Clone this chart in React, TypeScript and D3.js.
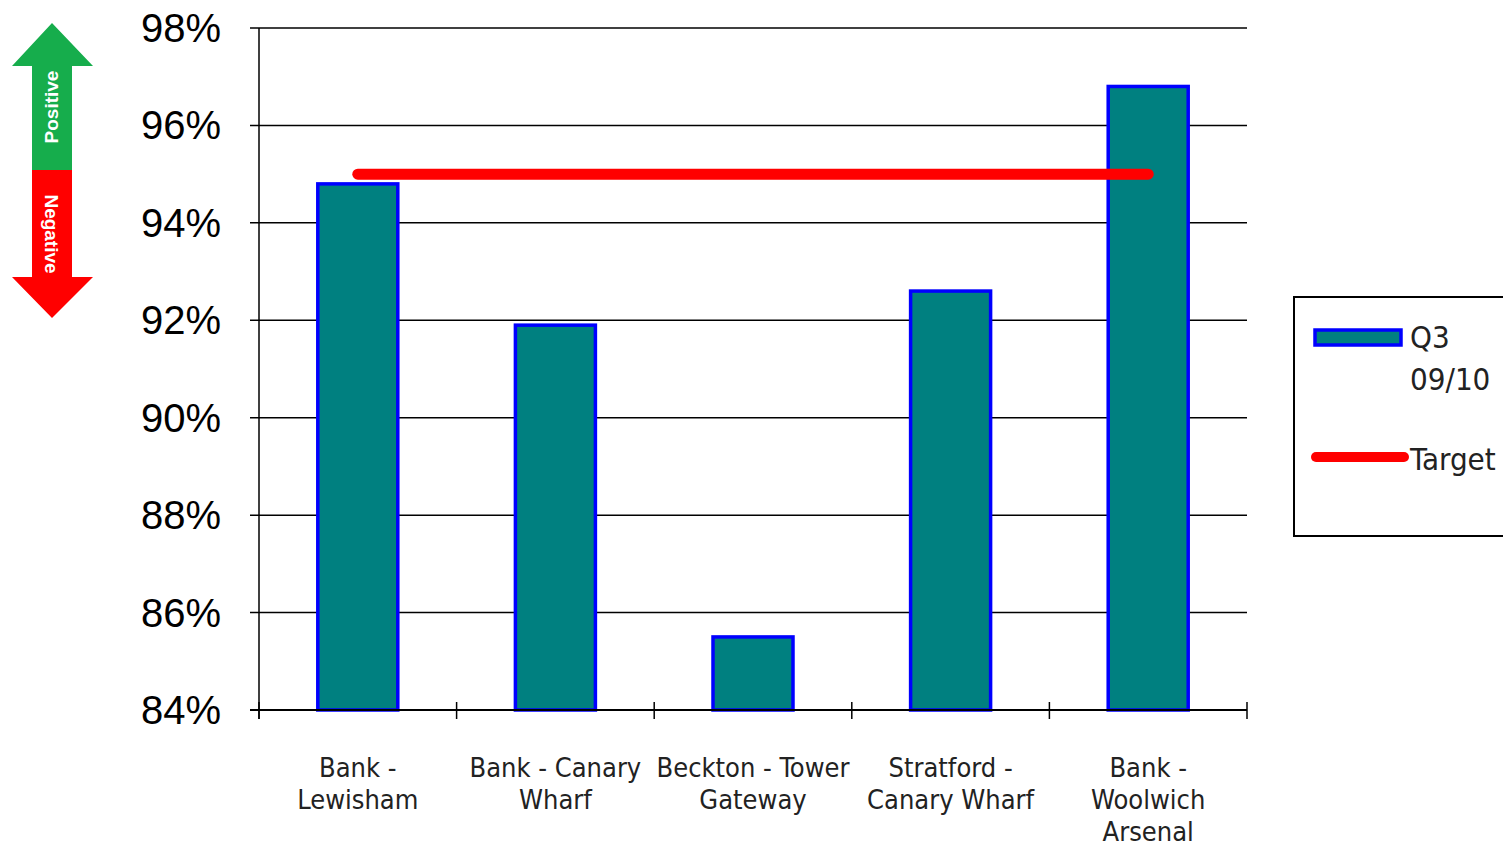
import { useEffect, useRef } from "react";
import * as d3 from "d3";

const categories = [
  ["Bank -", "Lewisham"],
  ["Bank - Canary", "Wharf"],
  ["Beckton - Tower", "Gateway"],
  ["Stratford -", "Canary Wharf"],
  ["Bank -", "Woolwich", "Arsenal"],
];
const q3Values = [94.8, 91.9, 85.5, 92.6, 96.8];
const targetValues = [95, 95, 95, 95, 95];
const yTicks = [84, 86, 88, 90, 92, 94, 96, 98];

const W = 1503;
const H = 844;
const PLOT = { left: 259, right: 1247, top: 28, bottom: 710 };

export default function App() {
  const svgRef = useRef<SVGSVGElement | null>(null);

  useEffect(() => {
    const svg = svgRef.current;
    if (!svg) return;
    svg.innerHTML = "";
    const root = d3.select(svg);

    const keys = categories.map((_, i) => String(i));
    const x = d3.scaleBand().domain(keys).range([PLOT.left, PLOT.right]).padding(0);
    const y = d3.scaleLinear().domain([84, 98]).range([PLOT.bottom, PLOT.top]);
    const barW = 80;
    const cx = (i: number) => x(String(i))! + x.bandwidth() / 2;

    // gridlines
    root
      .append("g")
      .selectAll("line")
      .data(yTicks)
      .join("line")
      .attr("x1", PLOT.left - 9)
      .attr("x2", PLOT.right)
      .attr("y1", (d) => y(d))
      .attr("y2", (d) => y(d))
      .attr("stroke", "#000")
      .attr("stroke-width", 1.5);

    // y labels
    root
      .append("g")
      .selectAll("text")
      .data(yTicks)
      .join("text")
      .attr("x", 221)
      .attr("y", (d) => y(d) + 14)
      .attr("text-anchor", "end")
      .style("font-family", "Liberation Sans, Arial, sans-serif")
      .style("font-size", "40px")
      .text((d) => `${d}%`);

    // bars
    root
      .append("g")
      .selectAll("rect")
      .data(q3Values)
      .join("rect")
      .attr("x", (_, i) => cx(i) - barW / 2)
      .attr("width", barW)
      .attr("y", (d) => y(d))
      .attr("height", (d) => y(84) - y(d))
      .attr("fill", "#008080")
      .attr("stroke", "#0000ff")
      .attr("stroke-width", 3.5);

    // axes lines
    root
      .append("line")
      .attr("x1", PLOT.left)
      .attr("x2", PLOT.left)
      .attr("y1", PLOT.top)
      .attr("y2", PLOT.bottom + 9)
      .attr("stroke", "#000")
      .attr("stroke-width", 1.5);
    root
      .append("line")
      .attr("x1", PLOT.left - 9)
      .attr("x2", PLOT.right)
      .attr("y1", PLOT.bottom)
      .attr("y2", PLOT.bottom)
      .attr("stroke", "#000")
      .attr("stroke-width", 2);
    const tickXs = d3.range(categories.length + 1).map((i) =>
      i < categories.length ? x(String(i))! : PLOT.right
    );
    root
      .append("g")
      .selectAll("line")
      .data(tickXs)
      .join("line")
      .attr("x1", (d) => d)
      .attr("x2", (d) => d)
      .attr("y1", PLOT.bottom - 8)
      .attr("y2", PLOT.bottom + 9)
      .attr("stroke", "#000")
      .attr("stroke-width", 1.5);

    // target line
    const line = d3
      .line<number>()
      .x((_, i) => cx(i))
      .y((d) => y(d));
    root
      .append("path")
      .attr("d", line(targetValues)!)
      .attr("fill", "none")
      .attr("stroke", "#ff0000")
      .attr("stroke-width", 11)
      .attr("stroke-linecap", "round");

    // x labels
    const xl = root.append("g");
    categories.forEach((lines, i) => {
      lines.forEach((t, j) => {
        xl.append("text")
          .attr("x", cx(i))
          .attr("y", 777 + j * 32)
          .attr("text-anchor", "middle")
          .style("font-family", "DejaVu Sans Condensed, DejaVu Sans, sans-serif")
          .style("font-stretch", "condensed")
          .style("font-size", "27px")
          .attr("fill", "#222")
          .text(t);
      });
    });

    // legend
    const lg = root.append("g");
    lg.append("rect")
      .attr("x", 1294)
      .attr("y", 297)
      .attr("width", 230)
      .attr("height", 239)
      .attr("fill", "#fff")
      .attr("stroke", "#000")
      .attr("stroke-width", 2);
    lg.append("rect")
      .attr("x", 1315)
      .attr("y", 330)
      .attr("width", 86)
      .attr("height", 15)
      .attr("fill", "#008080")
      .attr("stroke", "#0000ff")
      .attr("stroke-width", 3.5);
    lg.append("line")
      .attr("x1", 1316)
      .attr("x2", 1404)
      .attr("y1", 457)
      .attr("y2", 457)
      .attr("stroke", "#ff0000")
      .attr("stroke-width", 10)
      .attr("stroke-linecap", "round");
    const legendText = [
      { t: "Q3", y: 348 },
      { t: "09/10", y: 390 },
      { t: "Target", y: 470 },
    ];
    lg.selectAll("text.lt")
      .data(legendText)
      .join("text")
      .attr("class", "lt")
      .attr("x", 1410)
      .attr("y", (d) => d.y)
      .style("font-family", "DejaVu Sans Condensed, DejaVu Sans, sans-serif")
      .style("font-stretch", "condensed")
      .style("font-size", "31px")
      .attr("fill", "#222")
      .text((d) => d.t);

    // positive / negative arrow
    const ar = root.append("g");
    ar.append("path")
      .attr("d", "M52,23 L93,66 L72,66 L72,170 L32,170 L32,66 L12,66 Z")
      .attr("fill", "#16ad4c");
    ar.append("path")
      .attr("d", "M32,170 L72,170 L72,277 L93,277 L52,318 L12,277 L32,277 Z")
      .attr("fill", "#ff0000");
    ar.append("text")
      .attr("transform", "translate(58,107) rotate(-90)")
      .attr("text-anchor", "middle")
      .style("font-family", "Liberation Sans, Arial, sans-serif")
      .style("font-weight", "bold")
      .style("font-size", "19px")
      .attr("fill", "#fff")
      .text("Positive");
    ar.append("text")
      .attr("transform", "translate(45,234) rotate(90)")
      .attr("text-anchor", "middle")
      .style("font-family", "Liberation Sans, Arial, sans-serif")
      .style("font-weight", "bold")
      .style("font-size", "19px")
      .attr("fill", "#fff")
      .text("Negative");
  }, []);

  return (
    <svg
      ref={svgRef}
      width={W}
      height={H}
      style={{ position: "absolute", left: 0, top: 0, background: "#fff" }}
    />
  );
}
